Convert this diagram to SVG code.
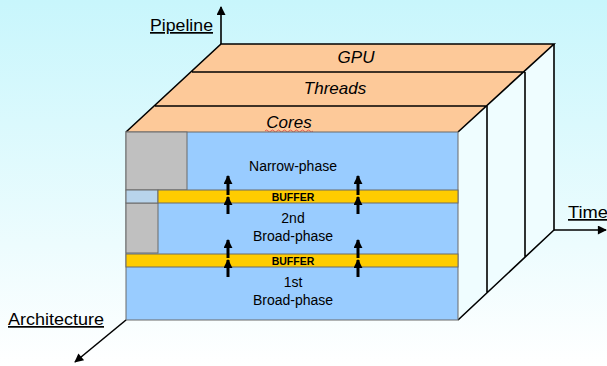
<svg xmlns="http://www.w3.org/2000/svg" width="607" height="366" viewBox="0 0 607 366">
  <defs>
    <linearGradient id="bg" x1="0" y1="0" x2="0" y2="1">
      <stop offset="0" stop-color="#c8f6fc"/>
      <stop offset="1" stop-color="#ffffff"/>
    </linearGradient>
    <marker id="ah" viewBox="0 0 10 10" refX="9" refY="5" markerWidth="11" markerHeight="9" markerUnits="userSpaceOnUse" orient="auto">
      <path d="M0,0 L10,5 L0,10 z" fill="#000"/>
    </marker>
    <marker id="up" viewBox="0 0 10 10" refX="9" refY="5" markerWidth="9" markerHeight="9" markerUnits="userSpaceOnUse" orient="auto">
      <path d="M0,0 L10,5 L0,10 z" fill="#000"/>
    </marker>
  </defs>
  <style>
    .lbl { font-family: "Liberation Sans", Arial, sans-serif; fill: #000; }
    .axis { font-size: 17px; text-decoration: underline; }
    .layer { font-size: 17px; font-style: italic; text-anchor: middle; }
    .stage { font-size: 14px; text-anchor: middle; }
    .buf { font-size: 10.5px; font-weight: bold; text-anchor: middle; }
    .edge { stroke: #000; stroke-width: 1.6; fill: none; }
    .cell { stroke: #6b6b6b; stroke-width: 1; }
    .flow { stroke: #000; stroke-width: 3; marker-end: url(#up); }
  </style>

  <rect width="607" height="366" fill="url(#bg)"/>

  <!-- right side face (time slices) -->
  <g id="side">
    <polygon points="458,132 554,44 554,230 458,320" fill="#effdff"/>
    <path class="edge" d="M487,106 V293 M525,72 V257 M554,44 V230 L458,320"/>
  </g>

  <!-- top face: pipeline layers -->
  <g id="layers">
    <polygon points="126,132 221,44 554,44 458,132" fill="#fdc999"/>
    <path class="edge" d="M126,132 L221,44 H554 L458,132 M192,72 H525 M155,106 H487"/>
    <text class="lbl layer" x="356" y="63">GPU</text>
    <text class="lbl layer" x="335" y="94">Threads</text>
    <text class="lbl layer" x="289" y="128">Cores</text>
    <path d="M265,131 q1.5,-2 3,0 t3,0 t3,0 t3,0 t3,0 t3,0 t3,0 t3,0 t3,0 t3,0 t3,0 t3,0 t3,0 t3,0 t3,0 t3,0" stroke="#e04040" stroke-width="0.8" fill="none"/>
  </g>

  <!-- front face: processing stages -->
  <g id="stages">
    <rect class="cell" x="126" y="132" width="332" height="188" fill="#99ccff"/>
    <rect class="cell" x="126" y="132" width="61" height="58" fill="#c0c0c0"/>
    <rect class="cell" x="126" y="203" width="32" height="50" fill="#c0c0c0"/>
    <rect class="cell" x="126" y="190" width="32" height="13" fill="#b8d4ec"/>
  </g>

  <g id="buffer1">
    <rect class="cell" x="158" y="190" width="300" height="13" fill="#ffcc00"/>
    <text class="lbl buf" x="293" y="200.5">BUFFER</text>
  </g>
  <g id="buffer2">
    <rect class="cell" x="126" y="254" width="332" height="13" fill="#ffcc00"/>
    <text class="lbl buf" x="293" y="264.5">BUFFER</text>
  </g>

  <g id="narrow">
    <text class="lbl stage" x="293" y="171">Narrow-phase</text>
  </g>
  <g id="broad2">
    <text class="lbl stage" x="293" y="223">2nd</text>
    <text class="lbl stage" x="293" y="241">Broad-phase</text>
  </g>
  <g id="broad1">
    <text class="lbl stage" x="293" y="287">1st</text>
    <text class="lbl stage" x="293" y="305">Broad-phase</text>
  </g>

  <!-- data flow and axes -->
  <g id="connectors">
    <line class="flow" x1="228" y1="195" x2="228" y2="176"/>
    <line class="flow" x1="228" y1="214" x2="228" y2="197"/>
    <line class="flow" x1="358" y1="195" x2="358" y2="176"/>
    <line class="flow" x1="358" y1="214" x2="358" y2="197"/>
    <line class="flow" x1="228" y1="258" x2="228" y2="240"/>
    <line class="flow" x1="228" y1="277" x2="228" y2="260"/>
    <line class="flow" x1="358" y1="258" x2="358" y2="240"/>
    <line class="flow" x1="358" y1="277" x2="358" y2="260"/>

    <line x1="221" y1="44" x2="221" y2="7" stroke="#000" stroke-width="1.6" marker-end="url(#ah)"/>
    <line x1="554" y1="230" x2="606" y2="230" stroke="#000" stroke-width="1.6" marker-end="url(#ah)"/>
    <line x1="126" y1="320" x2="75" y2="362" stroke="#000" stroke-width="1.6" marker-end="url(#ah)"/>
  </g>

  <g id="axes">
    <text class="lbl axis" x="150" y="31" textLength="63" lengthAdjust="spacingAndGlyphs">Pipeline</text>
    <text class="lbl axis" x="568" y="218" textLength="40" lengthAdjust="spacingAndGlyphs">Time</text>
    <text class="lbl axis" x="8" y="325" textLength="96" lengthAdjust="spacingAndGlyphs">Architecture</text>
  </g>
</svg>
